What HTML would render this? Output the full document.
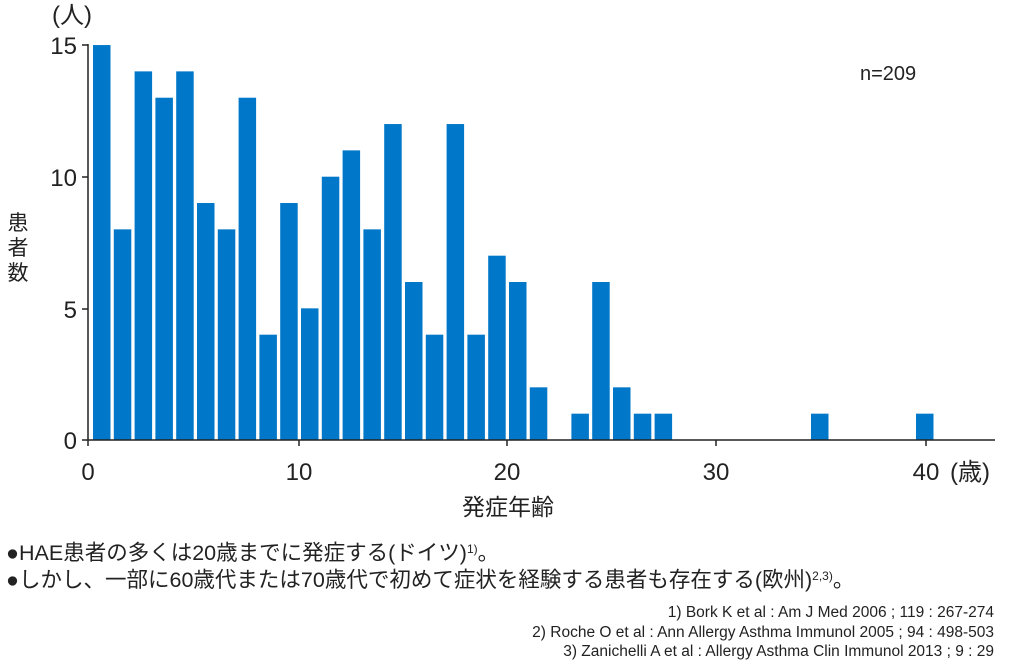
<!DOCTYPE html>
<html><head><meta charset="utf-8"><style>
body{margin:0;background:#fff;width:1015px;height:661px;overflow:hidden;font-family:"Liberation Sans","Noto Sans CJK JP",sans-serif;}
svg{position:absolute;left:0;top:0}
</style></head><body>
<svg width="1015" height="661" xmlns="http://www.w3.org/2000/svg" font-family="Liberation Sans, Noto Sans CJK JP, sans-serif">
<g fill="#0077c8" id="bars"></g>
<line x1="88" y1="44" x2="88" y2="440" stroke="#222" stroke-width="1.5"/>
<line x1="88" y1="440" x2="995" y2="440" stroke="#222" stroke-width="1.5"/>
<g stroke="#222" stroke-width="1.5">
<line x1="82" y1="45" x2="88" y2="45"/><line x1="82" y1="177" x2="88" y2="177"/><line x1="82" y1="309" x2="88" y2="309"/><line x1="82" y1="440" x2="88" y2="440"/>
<line x1="88" y1="440" x2="88" y2="446"/><line x1="299" y1="440" x2="299" y2="446"/><line x1="507" y1="440" x2="507" y2="446"/><line x1="716" y1="440" x2="716" y2="446"/><line x1="926" y1="440" x2="926" y2="446"/>
</g>
<g font-size="24" fill="#222" text-anchor="end">
<text x="77" y="54">15</text><text x="77" y="186">10</text><text x="77" y="318">5</text><text x="77" y="449">0</text>
</g>
<g font-size="24" fill="#222" text-anchor="middle">
<text x="88" y="480">0</text><text x="299" y="480">10</text><text x="507" y="480">20</text><text x="716" y="480">30</text><text x="926" y="480">40</text>
</g>
<text x="950" y="480" font-size="24" fill="#222">(歳)</text>
<text x="52" y="23" font-size="24" fill="#222">(人)</text>
<text x="18" y="230" font-size="21" fill="#222" text-anchor="middle">患</text>
<text x="18" y="255" font-size="21" fill="#222" text-anchor="middle">者</text>
<text x="18" y="280" font-size="21" fill="#222" text-anchor="middle">数</text>
<text x="508" y="515" font-size="23" fill="#222" text-anchor="middle">発症年齢</text>
<text x="860" y="80" font-size="20" fill="#222">n=209</text>
<text x="6" y="560" font-size="21.5" fill="#222">●HAE患者の多くは20歳までに発症する(ドイツ)<tspan font-size="12" dy="-7">1)</tspan><tspan dy="7">。</tspan></text>
<text x="6" y="587" font-size="21.5" fill="#222">●しかし、一部に60歳代または70歳代で初めて症状を経験する患者も存在する(欧州)<tspan font-size="12" dy="-7">2,3)</tspan><tspan dy="7">。</tspan></text>
<g font-size="15.5" fill="#222" text-anchor="end">
<text x="994" y="617">1) Bork K et al : Am J Med 2006 ; 119 : 267-274</text>
<text x="994" y="637">2) Roche O et al : Ann Allergy Asthma Immunol 2005 ; 94 : 498-503</text>
<text x="994" y="656">3) Zanichelli A et al : Allergy Asthma Clin Immunol 2013 ; 9 : 29</text>
</g>
</svg>
<script>
var h=[15,8,14,13,14,9,8,13,4,9,5,10,11,8,12,6,4,12,4,7,6,2,0,1,6,2,1,1];
var g=document.getElementById('bars'),s='';
function bar(x,v){var y=440-v*26.33;s+='<rect x="'+x+'" y="'+y+'" width="17.5" height="'+(440-y)+'"/>';}
for(var i=0;i<h.length;i++){if(h[i])bar(93+i*20.8,h[i]);}
bar(811,1);bar(916,1);
g.innerHTML=s;
</script>
</body></html>
